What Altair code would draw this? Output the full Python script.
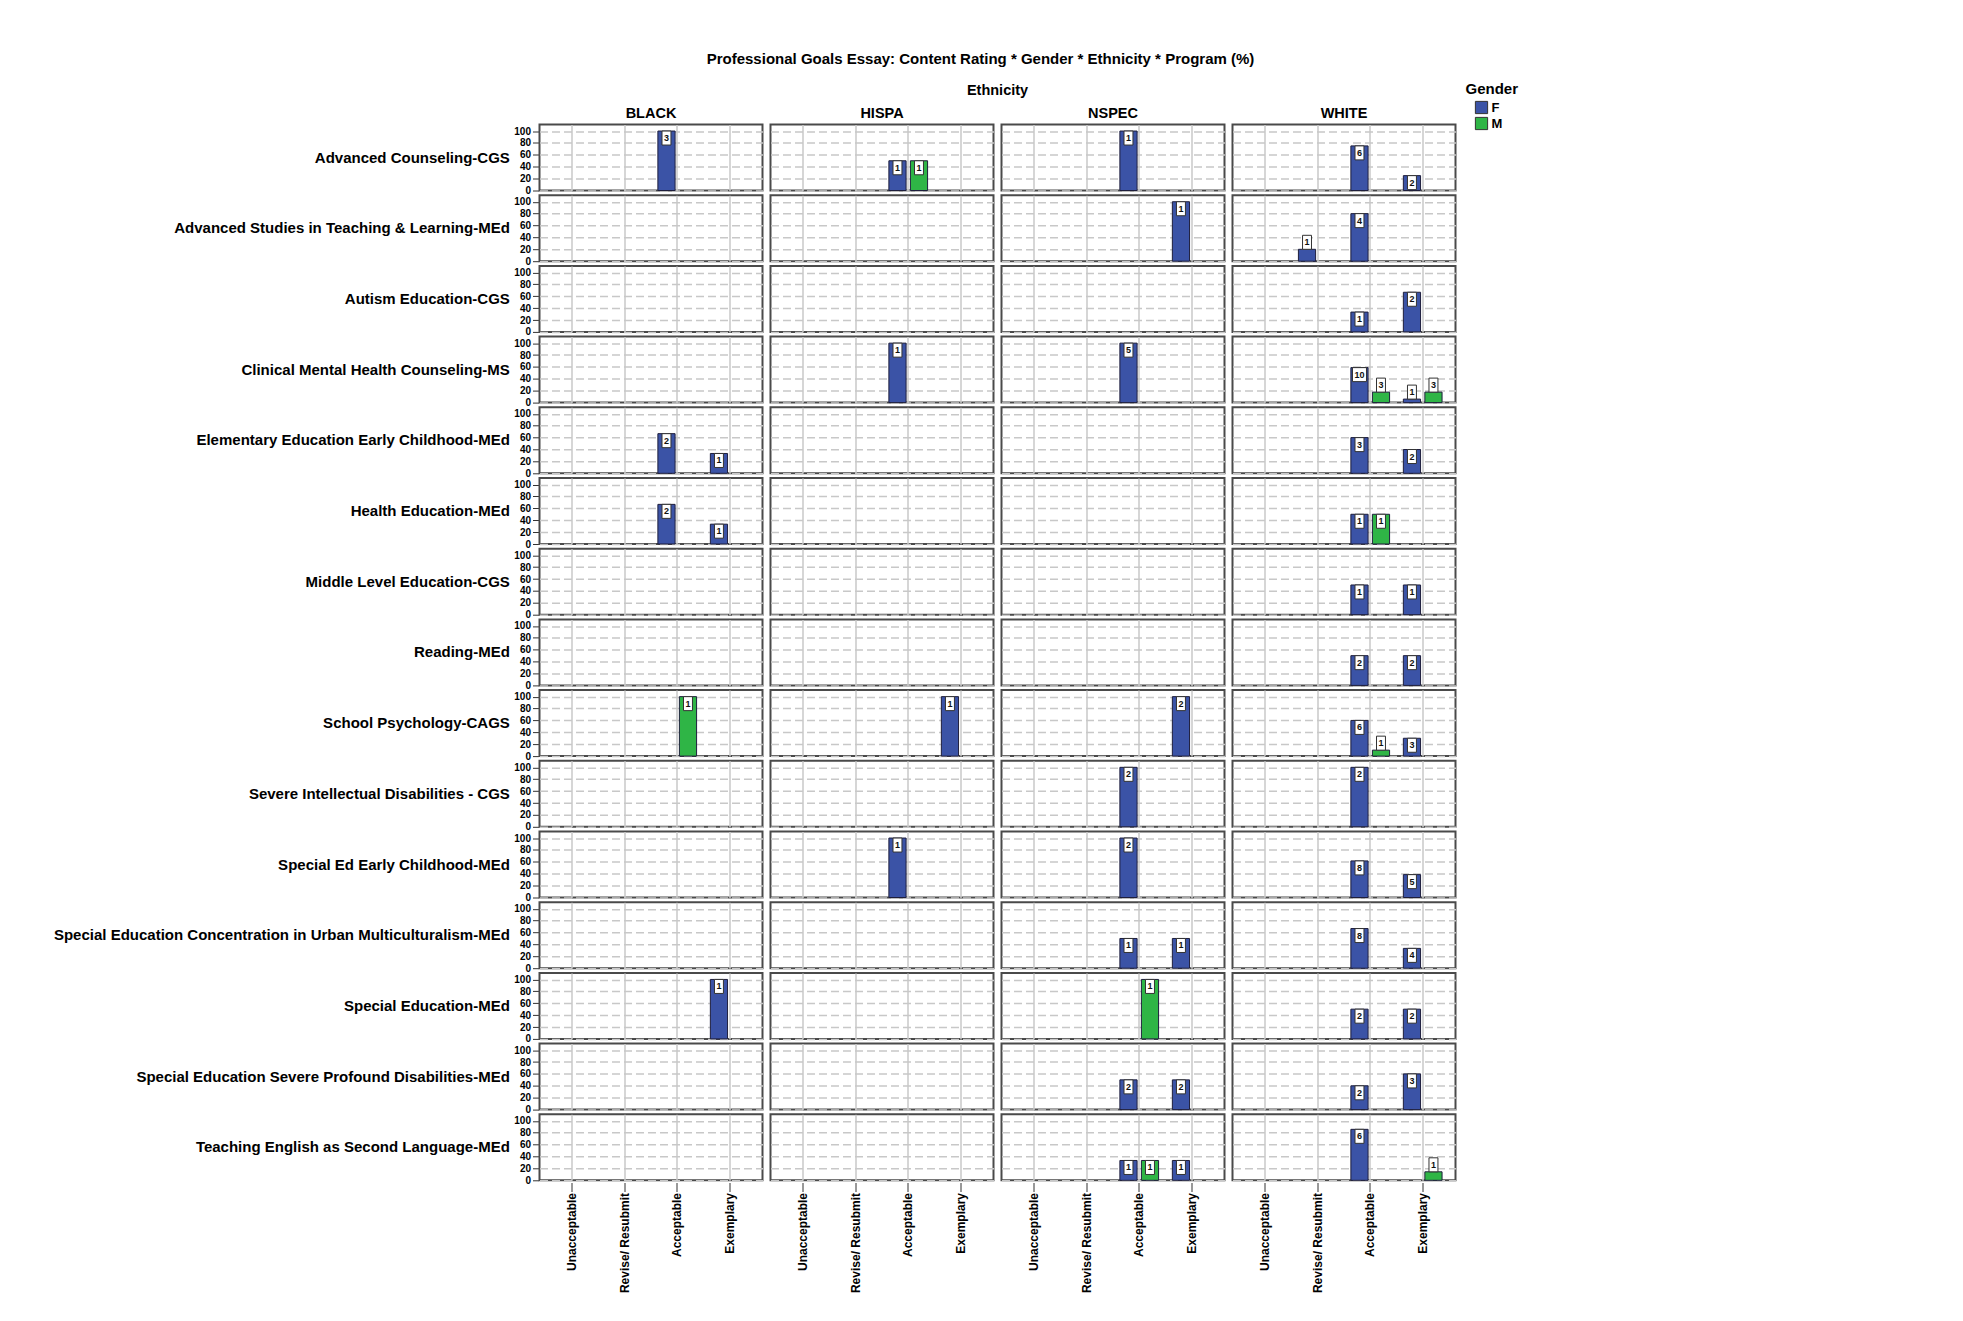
import json
import altair as alt
import pandas as pd

programs = [
    "Advanced Counseling-CGS",
    "Advanced Studies in Teaching & Learning-MEd",
    "Autism Education-CGS",
    "Clinical Mental Health Counseling-MS",
    "Elementary Education Early Childhood-MEd",
    "Health Education-MEd",
    "Middle Level Education-CGS",
    "Reading-MEd",
    "School Psychology-CAGS",
    "Severe Intellectual Disabilities - CGS",
    "Special Ed Early Childhood-MEd",
    "Special Education Concentration in Urban Multiculturalism-MEd",
    "Special Education-MEd",
    "Special Education Severe Profound Disabilities-MEd",
    "Teaching English as Second Language-MEd",
]
ethnicities = ["BLACK", "HISPA", "NSPEC", "WHITE"]
ratings = ["Unacceptable", "Revise/ Resubmit", "Acceptable", "Exemplary"]
genders = ["F", "M"]
gender_colors = ["#3b53a6", "#2fb546"]

# one entry per bar: program index, ethnicity, rating, gender, count
bar_program = [0, 0, 0, 0, 0, 0,
               1, 1, 1,
               2, 2,
               3, 3, 3, 3, 3, 3,
               4, 4, 4, 4,
               5, 5, 5, 5,
               6, 6,
               7, 7,
               8, 8, 8, 8, 8, 8,
               9, 9,
               10, 10, 10, 10,
               11, 11, 11, 11,
               12, 12, 12, 12,
               13, 13, 13, 13,
               14, 14, 14, 14, 14]
bar_ethnicity = ["BLACK", "HISPA", "HISPA", "NSPEC", "WHITE", "WHITE",
                 "NSPEC", "WHITE", "WHITE",
                 "WHITE", "WHITE",
                 "HISPA", "NSPEC", "WHITE", "WHITE", "WHITE", "WHITE",
                 "BLACK", "BLACK", "WHITE", "WHITE",
                 "BLACK", "BLACK", "WHITE", "WHITE",
                 "WHITE", "WHITE",
                 "WHITE", "WHITE",
                 "BLACK", "HISPA", "NSPEC", "WHITE", "WHITE", "WHITE",
                 "NSPEC", "WHITE",
                 "HISPA", "NSPEC", "WHITE", "WHITE",
                 "NSPEC", "NSPEC", "WHITE", "WHITE",
                 "BLACK", "NSPEC", "WHITE", "WHITE",
                 "NSPEC", "NSPEC", "WHITE", "WHITE",
                 "NSPEC", "NSPEC", "NSPEC", "WHITE", "WHITE"]
bar_rating = ["Acceptable", "Acceptable", "Acceptable", "Acceptable", "Acceptable", "Exemplary",
              "Exemplary", "Revise/ Resubmit", "Acceptable",
              "Acceptable", "Exemplary",
              "Acceptable", "Acceptable", "Acceptable", "Acceptable", "Exemplary", "Exemplary",
              "Acceptable", "Exemplary", "Acceptable", "Exemplary",
              "Acceptable", "Exemplary", "Acceptable", "Acceptable",
              "Acceptable", "Exemplary",
              "Acceptable", "Exemplary",
              "Acceptable", "Exemplary", "Exemplary", "Acceptable", "Acceptable", "Exemplary",
              "Acceptable", "Acceptable",
              "Acceptable", "Acceptable", "Acceptable", "Exemplary",
              "Acceptable", "Exemplary", "Acceptable", "Exemplary",
              "Exemplary", "Acceptable", "Acceptable", "Exemplary",
              "Acceptable", "Exemplary", "Acceptable", "Exemplary",
              "Acceptable", "Acceptable", "Exemplary", "Acceptable", "Exemplary"]
bar_gender = ["F", "F", "M", "F", "F", "F",
              "F", "F", "F",
              "F", "F",
              "F", "F", "F", "M", "F", "M",
              "F", "F", "F", "F",
              "F", "F", "F", "M",
              "F", "F",
              "F", "F",
              "M", "F", "F", "F", "M", "F",
              "F", "F",
              "F", "F", "F", "F",
              "F", "F", "F", "F",
              "F", "M", "F", "F",
              "F", "F", "F", "F",
              "F", "M", "F", "F", "M"]
bar_count = [3, 1, 1, 1, 6, 2,
             1, 1, 4,
             1, 2,
             1, 5, 10, 3, 1, 3,
             2, 1, 3, 2,
             2, 1, 1, 1,
             1, 1,
             2, 2,
             1, 1, 2, 6, 1, 3,
             2, 2,
             1, 2, 8, 5,
             1, 1, 8, 4,
             1, 1, 2, 2,
             2, 2, 2, 3,
             1, 1, 1, 6, 1]

bars_df = pd.DataFrame({
    "pnum": bar_program,
    "ethnicity": bar_ethnicity,
    "rating": bar_rating,
    "gender": bar_gender,
    "count": bar_count,
})
# empty placeholders so that every program x ethnicity panel exists
cells_df = pd.DataFrame(
    [(p, e, "Acceptable", "F", 0) for p in range(len(programs)) for e in ethnicities],
    columns=["pnum", "ethnicity", "rating", "gender", "count"],
)
df = pd.concat([bars_df, cells_df], ignore_index=True)

FONT = "Liberation Sans"
BOX_NARROW = "M-0.64,-1L0.64,-1L0.64,1L-0.64,1Z"
BOX_WIDE = "M-1,-1L1,-1L1,1L-1,1Z"
INSIDE = 22

x_enc = alt.X(
    "rating:N",
    sort=ratings,
    scale=alt.Scale(domain=ratings, paddingInner=0, paddingOuter=0.125),
    axis=alt.Axis(
        title=None, labelAngle=-90, labelFontSize=12, labelFontWeight="bold",
        labelColor="#000000", labelPadding=1, tickSize=9, tickColor="#333333",
        tickWidth=1, bandPosition=0.5, grid=True, gridColor="#c8c8c8",
        gridWidth=1.5, domain=False,
    ),
)
xo_enc = alt.XOffset("gender:N", scale=alt.Scale(domain=genders, paddingInner=0.2, paddingOuter=0.32))
y_enc = alt.Y(
    "pct:Q",
    scale=alt.Scale(domain=[0, 111], nice=False, zero=True),
    axis=alt.Axis(
        title=None, values=[0, 20, 40, 60, 80, 100], labelFontSize=10,
        labelFontWeight="bold", labelColor="#000000", labelPadding=2,
        tickSize=6, tickColor="#333333", grid=True, gridDash=[8, 4],
        gridColor="#c8c8c8", gridWidth=1.5, domain=False,
    ),
)

real = "datum.count > 0"

bars = alt.Chart().transform_filter(real).mark_bar(stroke="#1e1e3c", strokeWidth=1).encode(
    x=x_enc,
    xOffset=xo_enc,
    y=y_enc,
    color=alt.Color(
        "gender:N",
        scale=alt.Scale(domain=genders, range=gender_colors),
        legend=alt.Legend(
            title="Gender", titleFontSize=15, titleFontWeight="bold", titleColor="#000000",
            labelFontSize=13, labelFontWeight="bold", labelColor="#000000",
            symbolType="square", symbolSize=150, symbolStrokeColor="#333333",
            symbolStrokeWidth=1, symbolOpacity=1, rowPadding=-2, labelOffset=3,
            orient="none", legendX=926, legendY=-43, symbolOffset=9, titlePadding=4,
        ),
    ),
)

shape_cond = alt.condition("datum.count >= 10", alt.value(BOX_WIDE), alt.value(BOX_NARROW))


def label_layers(inside):
    off = 7 if inside else -7
    filt = f"datum.count > 0 && datum.pct >= {INSIDE}" if inside else f"datum.count > 0 && datum.pct < {INSIDE}"
    box = alt.Chart().transform_filter(filt).mark_point(
        filled=True, fill="#ffffff", stroke="#333333", strokeWidth=1,
        opacity=1, size=196, yOffset=off,
    ).encode(x=x_enc, xOffset=xo_enc, y=y_enc, shape=shape_cond)
    txt = alt.Chart().transform_filter(filt).mark_text(
        font=FONT, fontSize=9, fontWeight="bold", color="#111111",
        baseline="middle", align="center", yOffset=off,
    ).encode(x=x_enc, xOffset=xo_enc, y=y_enc, text=alt.Text("count:Q"))
    return [box, txt]


layers = [bars] + label_layers(True) + label_layers(False)

program_lookup = json.dumps(programs) + "[datum.value]"

chart = alt.layer(*layers).properties(width=223, height=66).facet(
    row=alt.Row(
        "pnum:O", title=None,
        header=alt.Header(
            labelAngle=0, labelOrient="left", labelAlign="left", labelExpr=program_lookup,
            labelFontSize=15, labelFontWeight="bold", labelColor="#000000",
            labelFont=FONT, labelPadding=4,
        ),
    ),
    column=alt.Column(
        "ethnicity:N", title="Ethnicity",
        header=alt.Header(
            labelFontSize=14.5, labelFontWeight="bold", labelColor="#000000", labelFont=FONT,
            titleFontSize=14.5, titleFontWeight="bold", titleColor="#000000", titleFont=FONT,
            labelPadding=2.5, titlePadding=-2.5,
        ),
    ),
    data=df,
    spacing={"row": 0.7, "column": 6},
).transform_joinaggregate(
    total="sum(count)", groupby=["pnum", "ethnicity"]
).transform_calculate(
    pct="datum.total > 0 ? datum.count / datum.total * 100 : 0"
).properties(
    title=alt.Title(
        "Professional Goals Essay: Content Rating * Gender * Ethnicity * Program (%)",
        fontSize=15, fontWeight="bold", font=FONT, color="#000000",
        anchor="middle", frame="group", offset=15, dx=441,
    ),
    padding={"left": 45.5, "top": 43.5, "right": 10, "bottom": 5},
    background="#ffffff",
).configure(font=FONT).configure_view(
    stroke="#4a4a4a", strokeWidth=2,
)

chart.save("out.html", embed_options={"renderer": "svg", "actions": False})
